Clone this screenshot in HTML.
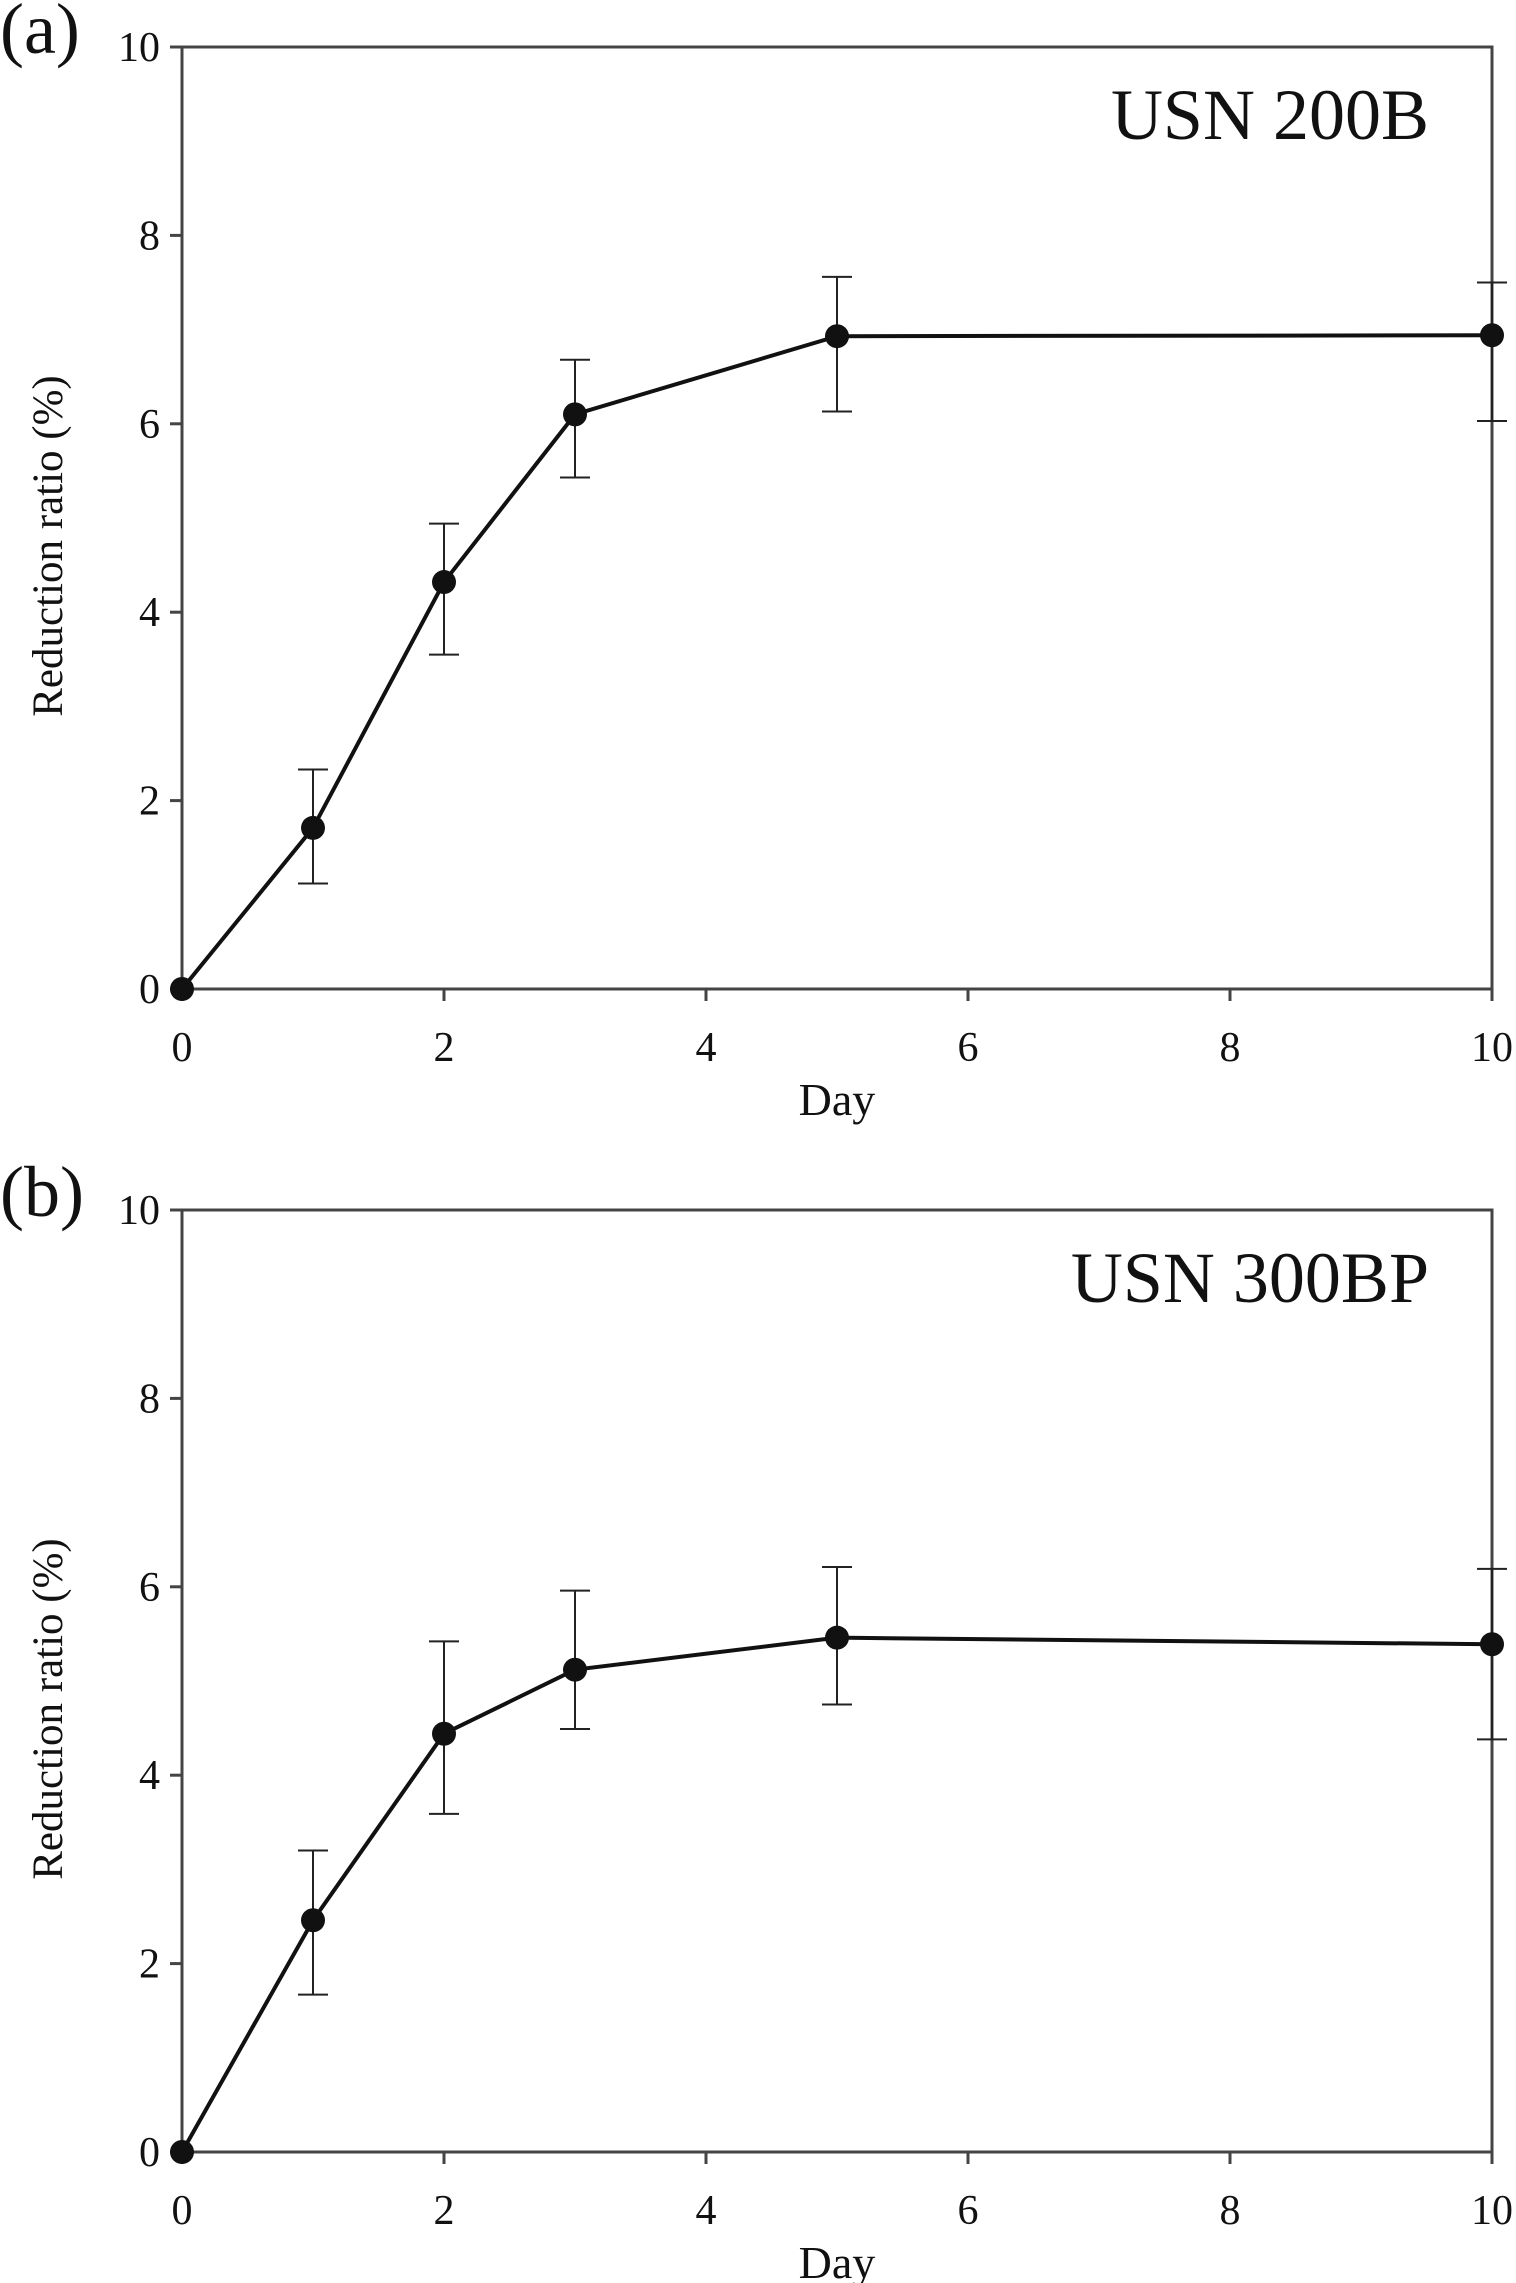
<!DOCTYPE html>
<html><head><meta charset="utf-8"><style>
html,body{margin:0;padding:0;background:#fff}
svg{display:block}
text{font-family:"Liberation Serif",serif;fill:#111}
</style></head><body>
<svg id="chart" width="1516" height="2283" viewBox="0 0 1516 2283" xmlns="http://www.w3.org/2000/svg"></svg>
<script>
const days = [0, 1, 2, 3, 5, 10];
const meanA = [0, 1.71, 4.32, 6.1, 6.93, 6.94];
const upA = [0, 2.33, 4.94, 6.68, 7.56, 7.5];
const lowA = [0, 1.12, 3.55, 5.43, 6.13, 6.03];
const meanB = [0, 2.46, 4.44, 5.12, 5.46, 5.39];
const upB = [0, 3.2, 5.42, 5.96, 6.21, 6.19];
const lowB = [0, 1.67, 3.59, 4.49, 4.75, 4.38];
const xTicks = [0, 2, 4, 6, 8, 10];
const yTicks = [0, 2, 4, 6, 8, 10];
const panels = [
  {id:'a', label:'(a)', title:'USN 200B', top:47, mean:meanA, up:upA, low:lowA},
  {id:'b', label:'(b)', title:'USN 300BP', top:1210, mean:meanB, up:upB, low:lowB}
];
const NS = 'http://www.w3.org/2000/svg';
const svg = document.getElementById('chart');
const L = 182, R = 1492, H = 942;
function mk(tag, attrs, parent){const e=document.createElementNS(NS,tag);for(const k in attrs)e.setAttribute(k,attrs[k]);(parent||svg).appendChild(e);return e;}
panels.forEach(p=>{
  const g = mk('g',{});
  
  
  const T = p.top, B = p.top + H;
  const xs = v => L + (R-L)*v/10;
  const ys = v => B - H*v/10;
  const frame = mk('rect',{x:L,y:T,width:R-L,height:H,fill:'none',stroke:'#444','stroke-width':3},g);
  
  
  yTicks.forEach(v=>{
    const t = mk('line',{x1:L-12,x2:L,y1:ys(v),y2:ys(v),stroke:'#444','stroke-width':3},g);
    
    
    const tx = mk('text',{x:160,y:ys(v)+14,'text-anchor':'end','font-size':42},g);
    tx.textContent = v;
    
    
  });
  xTicks.forEach(v=>{
    const t = mk('line',{x1:xs(v),x2:xs(v),y1:B,y2:B+12,stroke:'#444','stroke-width':3},g);
    
    
    const tx = mk('text',{x:xs(v),y:B+72,'text-anchor':'middle','font-size':42},g);
    tx.textContent = v;
    
    
  });
  const xt = mk('text',{x:837,y:B+126,'text-anchor':'middle','font-size':46},g);
  xt.textContent='Day';
  
  
  const yt = mk('text',{x:0,y:0,'text-anchor':'middle','font-size':43,transform:`translate(62,${T+499}) rotate(-90)`},g);
  yt.textContent='Reduction ratio (%)';
  
  
  const lb = mk('text',{x:0,y:T+6,'font-size':72},g);
  lb.textContent=p.label;
  
  
  const an = mk('text',{x:1429,y:T+92,'text-anchor':'end','font-size':72},g);
  an.textContent=p.title;
  
  
  days.forEach((d,i)=>{
    if(p.up[i]===p.low[i]) return;
    const x = xs(d);
    const e = mk('path',{d:`M${x},${ys(p.up[i])}V${ys(p.low[i])}M${x-15},${ys(p.up[i])}h30M${x-15},${ys(p.low[i])}h30`,stroke:'#222','stroke-width':2,fill:'none'},g);
    
    
  });
  const line = mk('polyline',{points:days.map((d,i)=>xs(d)+','+ys(p.mean[i])).join(' '),fill:'none',stroke:'#111','stroke-width':4},g);
  
  
  days.forEach((d,i)=>{
    const c = mk('circle',{cx:xs(d),cy:ys(p.mean[i]),r:12,fill:'#111'},g);
    
    
  });
});
</script>
</body></html>
